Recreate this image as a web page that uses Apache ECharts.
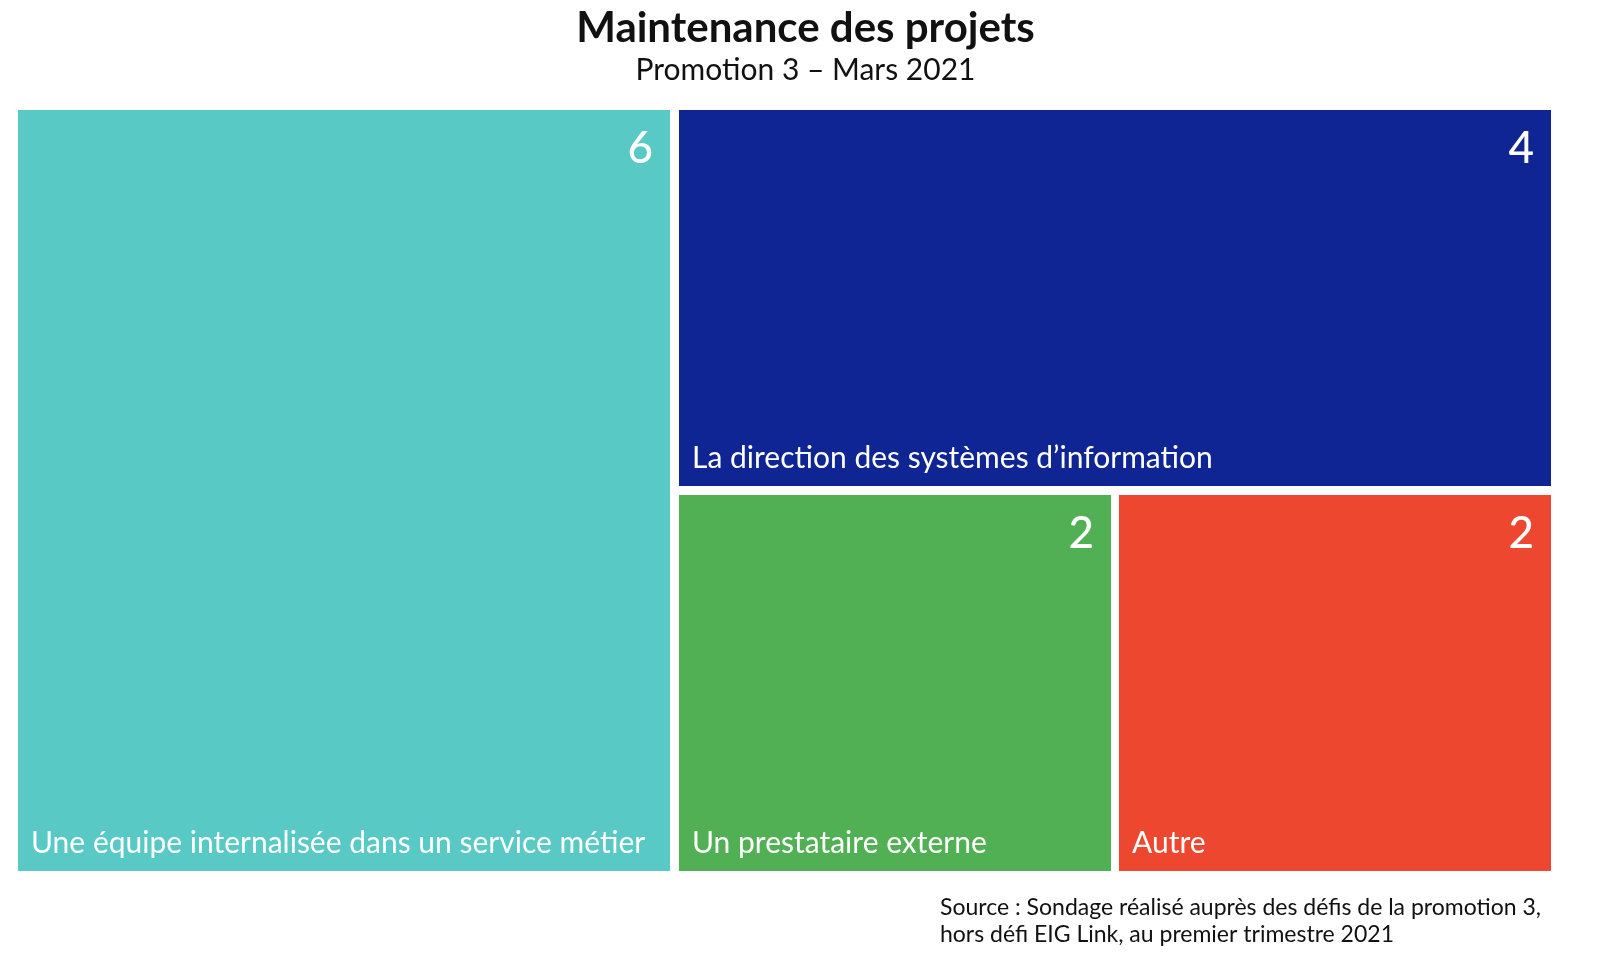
<!DOCTYPE html>
<html><head><meta charset="utf-8">
<script src="https://cdn.jsdelivr.net/npm/echarts@6/dist/echarts.min.js"></script>
<style>html,body{margin:0;padding:0;background:#fff}#c{width:1611px;height:978px}</style>
</head><body><div id="c"></div>
<script>
const categories = ["Une équipe internalisée dans un service métier","La direction des systèmes d’information","Un prestataire externe","Autre"];
const values = [6,4,2,2];
const colors = ["#58C9C5","#0E2593","#52B054","#EE4730"];
const chart = echarts.init(document.getElementById('c'));
const font = "Lato, 'Noto Sans', sans-serif";
const boxes = [
  {idx:[0], left:18, top:110, width:652, height:761},
  {idx:[1], left:679, top:110, width:872, height:376},
  {idx:[2,3], left:679, top:495, width:872, height:376}
];
function mk(box, withName){
  return {
    type:'treemap', left:box.left, top:box.top, width:box.width, height:box.height,
    roam:false, nodeClick:false, breadcrumb:{show:false}, sort:false,
    itemStyle:{borderWidth:0, gapWidth:8},
    levels:[{itemStyle:{gapWidth:8,borderWidth:0}}],
    data: box.idx.map(i=>({name:categories[i],value:values[i],
      itemStyle:{color: withName?colors[i]:'rgba(0,0,0,0)'}})),
    label: withName ? {show:true,position:'insideBottomLeft',formatter:'{b}',color:'#fff',fontSize:30,fontFamily:font,distance:8}
                    : {show:true,position:'insideTopRight',formatter:'{c}',color:'#fff',fontSize:44,fontWeight:500,fontFamily:font,distance:12},
    silent: !withName
  };
}
const series = [];
boxes.forEach(b=>series.push(mk(b,true)));
boxes.forEach(b=>series.push(mk(b,false)));
chart.setOption({
  title:{text:'Maintenance des projets',subtext:'Promotion 3 – Mars 2021',left:'center',top:2,
    textStyle:{fontSize:42,fontWeight:'bold',color:'#111',fontFamily:font},
    subtextStyle:{fontSize:30,color:'#111',fontFamily:font},itemGap:6},
  graphic:[{type:'text',left:940,top:894,style:{text:'Source : Sondage réalisé auprès des défis de la promotion 3,\nhors défi EIG Link, au premier trimestre 2021',fontSize:23,lineHeight:27,fill:'#111',fontFamily:font}}],
  series: series
});
</script></body></html>
